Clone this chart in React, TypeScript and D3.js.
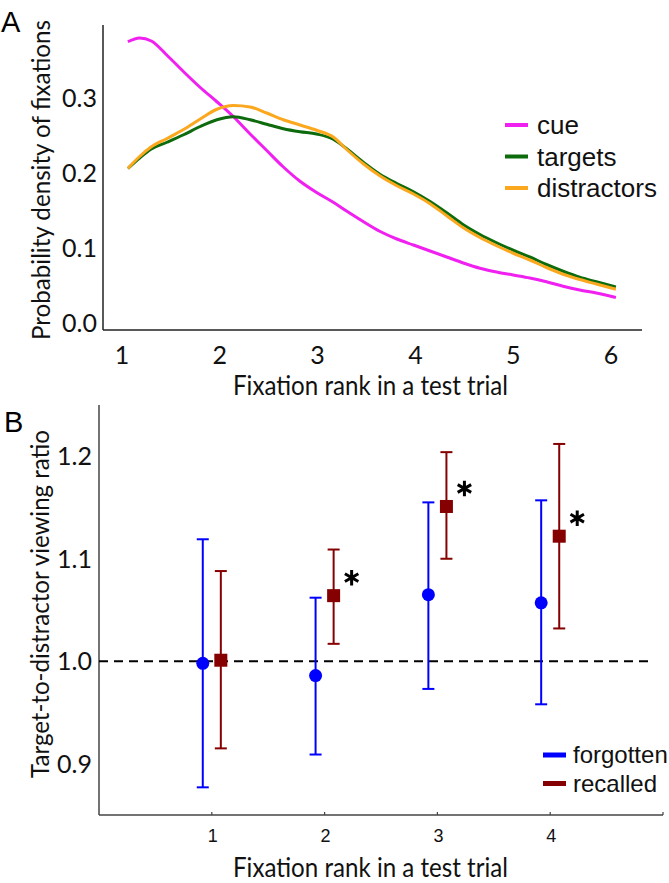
import React from "react";
import * as d3 from "d3";

// Panel A: smoothed fixation-rank densities
const rankGrid = [
  1.06, 1.18, 1.3, 1.46, 1.63, 1.8, 1.97, 2.14, 2.31, 2.48, 2.65, 2.82, 2.99, 3.16, 3.3, 3.47,
  3.64, 3.81, 3.98, 4.15, 4.32, 4.49, 4.66, 4.83, 5.0, 5.17, 5.34, 5.51, 5.68, 5.85, 6.05,
];
const cueDensity = [
  0.375, 0.38, 0.376, 0.357, 0.335, 0.314, 0.295, 0.275, 0.252, 0.23, 0.208, 0.189, 0.174, 0.161,
  0.149, 0.135, 0.122, 0.112, 0.104, 0.096, 0.088, 0.08, 0.073, 0.068, 0.064, 0.06, 0.055, 0.049,
  0.044, 0.04, 0.034,
];
const targetDensity = [
  0.206, 0.22, 0.232, 0.241, 0.251, 0.262, 0.271, 0.275, 0.271, 0.265, 0.259, 0.255, 0.252, 0.245,
  0.232, 0.214, 0.198, 0.186, 0.175, 0.162, 0.147, 0.131, 0.118, 0.107, 0.097, 0.088, 0.078, 0.069,
  0.061, 0.055, 0.048,
];
const distractorDensity = [
  0.206, 0.222, 0.235, 0.246, 0.258, 0.272, 0.285, 0.29, 0.288, 0.28, 0.271, 0.264, 0.257, 0.248,
  0.231, 0.212, 0.196, 0.183, 0.172, 0.159, 0.143, 0.127, 0.114, 0.103, 0.093, 0.084, 0.074, 0.065,
  0.058, 0.052, 0.045,
];
const densityTicks = [0, 0.1, 0.2, 0.3];
const rankTicksA = [1, 2, 3, 4, 5, 6];
const seriesA = [
  { name: "cue", values: cueDensity, color: "#f020f0" },
  { name: "targets", values: targetDensity, color: "#0d6b0d" },
  { name: "distractors", values: distractorDensity, color: "#fba81e" },
];

// Panel B: target-to-distractor viewing ratio with confidence intervals
const ratioRanks = [1, 2, 3, 4];
const forgottenMean = [0.998, 0.986, 1.065, 1.057];
const forgottenLow = [0.877, 0.909, 0.973, 0.958];
const forgottenHigh = [1.119, 1.062, 1.155, 1.157];
const recalledMean = [1.001, 1.064, 1.151, 1.122];
const recalledLow = [0.915, 1.017, 1.1, 1.032];
const recalledHigh = [1.088, 1.109, 1.204, 1.212];
const recalledSignificant = [false, true, true, true];
const ratioTicks = [0.9, 1.0, 1.1, 1.2];
const rankTicksB = [1, 2, 3, 4];

const CALIBRI = "Lato, 'Open Sans', sans-serif";
const ARIAL = "'Liberation Sans', Arial, sans-serif";
const BLUE = "#0000ff";
const DARKRED = "#850000";

export default function App() {
  const W = 669;
  const H = 883;

  // ---- Panel A scales
  const xA = d3.scaleLinear().domain([1, 6]).range([122, 611]);
  const yA = d3.scaleLinear().domain([0, 0.3]).range([323, 98]);
  const lineA = (vals: number[]) =>
    d3
      .line<number>()
      .x((_, i) => xA(rankGrid[i]))
      .y((d) => yA(d))
      .curve(d3.curveMonotoneX)(vals) || "";
  const frameA = { left: 103, top: 25, bottom: 330, right: 642 };

  // ---- Panel B scales
  const xB = d3.scaleLinear().domain([0, 5]).range([99, 663]);
  const yB = d3.scaleLinear().domain([0.85, 1.25]).range([815, 405]);
  const frameB = { left: 99, top: 405, bottom: 815, right: 663 };
  const shift = 0.08;
  const capHalf = 6;
  const starPath = d3.symbol().type(d3.symbolAsterisk).size(170)() || "";

  const groupsB = [
    {
      key: "forgotten",
      color: BLUE,
      dx: -shift,
      mean: forgottenMean,
      low: forgottenLow,
      high: forgottenHigh,
      marker: "circle",
    },
    {
      key: "recalled",
      color: DARKRED,
      dx: shift,
      mean: recalledMean,
      low: recalledLow,
      high: recalledHigh,
      marker: "square",
    },
  ];

  return (
    <svg
      width={W}
      height={H}
      style={{ position: "absolute", left: 0, top: 0, background: "#fff" }}
    >
      <rect width={W} height={H} fill="#fff" />

      {/* ================= Panel A ================= */}
      <text x={1} y={32} fontFamily={ARIAL} fontSize={29}>
        A
      </text>
      <line x1={frameA.left} x2={frameA.left} y1={frameA.top} y2={frameA.bottom} stroke="#222" strokeWidth={1.5} />
      <line x1={frameA.left} x2={frameA.right} y1={frameA.bottom} y2={frameA.bottom} stroke="#222" strokeWidth={1.5} />

      {densityTicks.map((t) => (
        <text
          key={"ya" + t}
          x={97}
          y={yA(t)}
          dy="0.36em"
          textAnchor="end"
          fontFamily={CALIBRI}
          fontSize={25}
          fill="#111"
        >
          {d3.format(".1f")(t)}
        </text>
      ))}
      {rankTicksA.map((t) => (
        <text
          key={"xa" + t}
          x={xA(t)}
          y={364}
          textAnchor="middle"
          fontFamily={CALIBRI}
          fontSize={25}
          fill="#111"
        >
          {t}
        </text>
      ))}
      <text
        x={370.5}
        y={395}
        textAnchor="middle"
        fontFamily={CALIBRI}
        fontSize={26}
        textLength={275}
        lengthAdjust="spacingAndGlyphs"
        fill="#111"
      >
        Fixation rank in a test trial
      </text>
      <text
        transform="translate(50,180) rotate(-90)"
        textAnchor="middle"
        fontFamily={CALIBRI}
        fontSize={25}
        textLength={320}
        lengthAdjust="spacingAndGlyphs"
        fill="#111"
      >
        Probability density of fixations
      </text>

      {seriesA.map((s) => (
        <path key={s.name} d={lineA(s.values)} fill="none" stroke={s.color} strokeWidth={3} />
      ))}

      {seriesA.map((s, i) => (
        <g key={"lga" + s.name} transform={`translate(505,${125 + i * 31.5})`}>
          <line x1={0} x2={23} y1={0} y2={0} stroke={s.color} strokeWidth={4} />
          <text x={32} y={0} dy="0.35em" fontFamily={ARIAL} fontSize={26} fill="#111">
            {s.name}
          </text>
        </g>
      ))}

      {/* ================= Panel B ================= */}
      <text x={4} y={432} fontFamily={ARIAL} fontSize={29}>
        B
      </text>
      <line x1={frameB.left} x2={frameB.left} y1={frameB.top} y2={frameB.bottom} stroke="#444" strokeWidth={1.5} />
      <line x1={frameB.left} x2={frameB.right} y1={frameB.bottom} y2={frameB.bottom} stroke="#444" strokeWidth={1.5} />
      {[...rankTicksB, 5].map((t) => (
        <line key={"xtb" + t} x1={xB(t)} x2={xB(t)} y1={frameB.bottom} y2={frameB.bottom - 3} stroke="#444" strokeWidth={1.2} />
      ))}

      {ratioTicks.map((t) => (
        <text
          key={"yb" + t}
          x={92}
          y={yB(t)}
          dy="0.36em"
          textAnchor="end"
          fontFamily={CALIBRI}
          fontSize={25}
          fill="#111"
        >
          {d3.format(".1f")(t)}
        </text>
      ))}
      {rankTicksB.map((t) => (
        <text
          key={"xb" + t}
          x={xB(t) + 1}
          y={842}
          textAnchor="middle"
          fontFamily={ARIAL}
          fontSize={18}
          fill="#111"
        >
          {t}
        </text>
      ))}
      <text
        x={370.5}
        y={877}
        textAnchor="middle"
        fontFamily={CALIBRI}
        fontSize={26}
        textLength={275}
        lengthAdjust="spacingAndGlyphs"
        fill="#111"
      >
        Fixation rank in a test trial
      </text>
      <text
        transform="translate(49,604) rotate(-90)"
        textAnchor="middle"
        fontFamily={CALIBRI}
        fontSize={25}
        textLength={348}
        lengthAdjust="spacingAndGlyphs"
        fill="#111"
      >
        Target-to-distractor viewing ratio
      </text>

      <line
        x1={frameB.left}
        x2={653}
        y1={yB(1)}
        y2={yB(1)}
        stroke="#000"
        strokeWidth={2}
        strokeDasharray="9,6"
      />

      {groupsB.map((g) =>
        ratioRanks.map((r, i) => {
          const cx = xB(r + g.dx);
          return (
            <g key={g.key + r}>
              <line x1={cx} x2={cx} y1={yB(g.low[i])} y2={yB(g.high[i])} stroke={g.color} strokeWidth={2} />
              <line x1={cx - capHalf} x2={cx + capHalf} y1={yB(g.low[i])} y2={yB(g.low[i])} stroke={g.color} strokeWidth={2} />
              <line x1={cx - capHalf} x2={cx + capHalf} y1={yB(g.high[i])} y2={yB(g.high[i])} stroke={g.color} strokeWidth={2} />
              {g.marker === "circle" ? (
                <circle cx={cx} cy={yB(g.mean[i])} r={6.5} fill={g.color} />
              ) : (
                <rect x={cx - 6.5} y={yB(g.mean[i]) - 6.5} width={13} height={13} fill={g.color} />
              )}
            </g>
          );
        })
      )}

      {ratioRanks.map((r, i) =>
        recalledSignificant[i] ? (
          <path
            key={"star" + r}
            d={starPath}
            transform={`translate(${xB(r + shift) + 18},${yB(recalledMean[i]) - 18})`}
            fill="none"
            stroke="#000"
            strokeWidth={3}
          />
        ) : null
      )}

      {groupsB.map((g, i) => (
        <g key={"lgb" + g.key} transform={`translate(543,${755 + i * 28.5})`}>
          <line x1={0} x2={23} y1={0} y2={0} stroke={g.color} strokeWidth={5} />
          <text x={30} y={0} dy="0.35em" fontFamily={ARIAL} fontSize={24} fill="#111">
            {g.key}
          </text>
        </g>
      ))}
    </svg>
  );
}
